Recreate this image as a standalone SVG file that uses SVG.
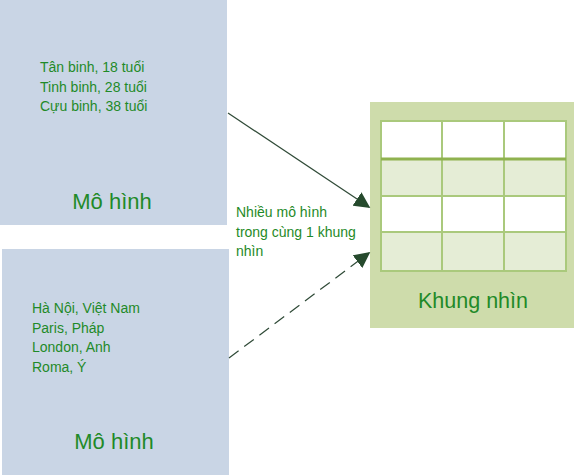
<svg xmlns="http://www.w3.org/2000/svg" width="574" height="476" viewBox="0 0 574 476">
<style>
.model{fill:#c9d5e5}
.t{font-family:"Liberation Sans",Arial,sans-serif;fill:#1f8a28}
.sm{font-size:14px}
.big{font-size:22px}
.cell{stroke:#aac97c;stroke-width:2}
.conn{stroke:#2f4a37;stroke-width:1.2;fill:none}
</style>
<defs>
<marker id="ah" viewBox="0 0 10 10" refX="9" refY="5" markerWidth="16" markerHeight="16" markerUnits="userSpaceOnUse" orient="auto">
<path d="M0,0 L10,5 L0,10 Z" fill="#264a2d"/>
</marker>
</defs>
<rect width="574" height="476" fill="#ffffff"/>
<g id="model1">
<rect class="model" x="0" y="0" width="227" height="225"/>
<text class="t sm" x="40" y="72">Tân binh, 18 tuổi</text>
<text class="t sm" x="40" y="92">Tinh binh, 28 tuổi</text>
<text class="t sm" x="40" y="111">Cựu binh, 38 tuổi</text>
<text class="t big" x="112" y="209" text-anchor="middle">Mô hình</text>
</g>
<g id="model2">
<rect class="model" x="2" y="249" width="227" height="226"/>
<text class="t sm" x="32" y="313">Hà Nội, Việt Nam</text>
<text class="t sm" x="32" y="333">Paris, Pháp</text>
<text class="t sm" x="32" y="352">London, Anh</text>
<text class="t sm" x="32" y="372">Roma, Ý</text>
<text class="t big" x="114" y="449" text-anchor="middle">Mô hình</text>
</g>
<g id="view">
<rect x="370" y="102" width="204" height="226" fill="#cedcab"/>
<rect x="381" y="121" width="185" height="37" fill="#ffffff"/>
<rect x="381" y="159" width="185" height="37" fill="#e5edd6"/>
<rect x="381" y="196" width="185" height="36" fill="#ffffff"/>
<rect x="381" y="232" width="185" height="39" fill="#e5edd6"/>
<g class="cell">
<rect x="381" y="121" width="185" height="150" fill="none"/>
<line x1="442" y1="121" x2="442" y2="271"/>
<line x1="504" y1="121" x2="504" y2="271"/>
<line x1="381" y1="196" x2="566" y2="196"/>
<line x1="381" y1="232" x2="566" y2="232"/>
</g>
<line x1="381" y1="159" x2="566" y2="159" stroke="#8fb24f" stroke-width="3"/>
<text class="t" x="473" y="308" font-size="21.5" text-anchor="middle">Khung nhìn</text>
</g>
<g id="connectors">
<line class="conn" x1="228" y1="113" x2="369" y2="207" marker-end="url(#ah)"/>
<line class="conn" x1="229" y1="358" x2="369" y2="253" stroke-dasharray="12,7" marker-end="url(#ah)"/>
<text class="t sm" x="236" y="217">Nhiều mô hình</text>
<text class="t sm" x="236" y="237">trong cùng 1 khung</text>
<text class="t sm" x="236" y="256">nhìn</text>
</g>
</svg>
